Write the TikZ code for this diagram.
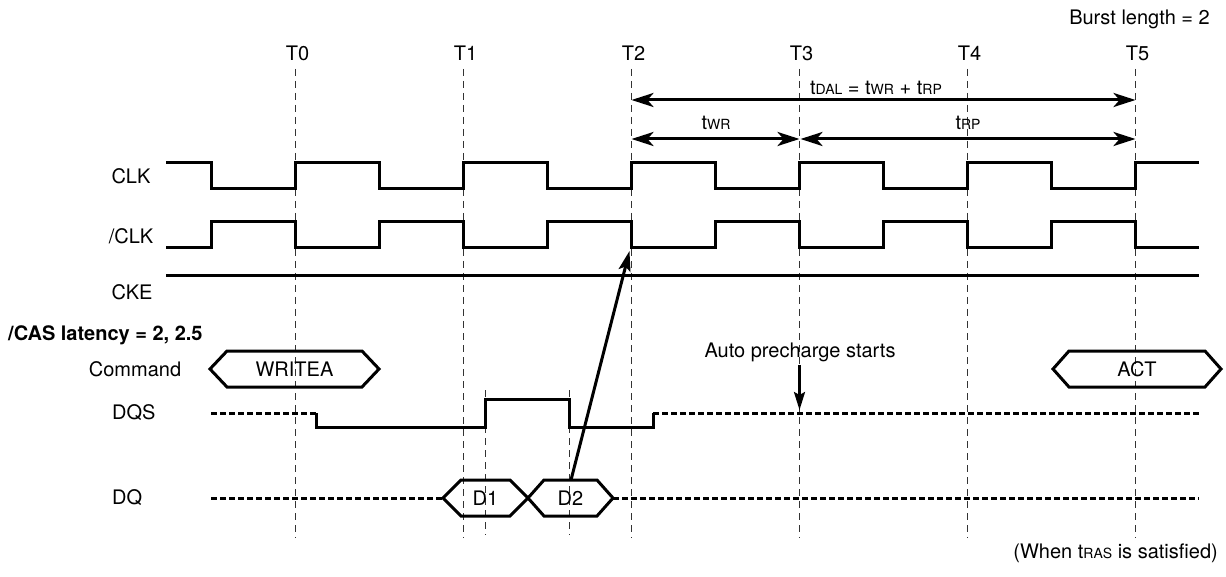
\documentclass[tikz,border=0pt]{standalone}
\usepackage{fontspec}
\setmainfont{TeX Gyre Heros}
\usetikzlibrary{arrows.meta,calc}
\newcommand\smc[1]{{\fontsize{14}{14}\selectfont #1}}
\newcommand\hexbox[3]{\draw[sig,shift={(#1.center)}] (-#2,0) -- ({-#2+#3},-18) -- ({#2-#3},-18) -- (#2,0) -- ({#2-#3},18) -- ({-#2+#3},18) -- cycle;}
\begin{document}
\begin{tikzpicture}[x=1pt,y=-1pt,
  sig/.style={line width=3pt},
  sigdash/.style={line width=3pt,dash pattern=on 6pt off 3pt},
  gridline/.style={line width=1.2pt,dash pattern=on 7pt off 5pt,black!80},
  lbl/.style={inner sep=0pt,font=\fontsize{20}{24}\selectfont},
  dimarrow/.style={line width=3pt,{Stealth[length=22pt,width=14pt,inset=6pt]}-{Stealth[length=22pt,width=14pt,inset=6pt]}},
  onearrow/.style={line width=3pt,-{Stealth[length=20pt,width=12pt,inset=4pt]}}]
\fill[white] (0,0) rectangle (1226,577);
\useasboundingbox (0,0) rectangle (1226,577);

% clock grid lines and labels
\foreach \k in {0,...,5} {
  \pgfmathsetmacro\xx{295.5+168*\k}
  \coordinate (T\k) at (\xx,0);
  \draw[gridline] (\xx,69) -- (\xx,538);
  \node[lbl] (lT\k) at (\xx+2,53) {T\k};
}
\draw[gridline] (485.5,390) -- (485.5,535);
\draw[gridline] (569.5,390) -- (569.5,535);

% top texts
\node[lbl,anchor=base east] (burst) at (1210,25) {Burst length = 2};
\node[lbl] (dallbl) at (876,88) {t\smc{DAL} = t\smc{WR} + t\smc{RP}};
\node[lbl] (wrlbl) at (716,123) {t\smc{WR}};
\node[lbl] (rplbl) at (968,123) {t\smc{RP}};

% timing arrows
\coordinate (dalL) at (631.5,100);
\coordinate (dalR) at (1135.5,100);
\coordinate (wrL) at (631.5,139);
\coordinate (wrR) at (799.5,139);
\coordinate (rpL) at (800.5,139);
\coordinate (rpR) at (1135.5,139);
\draw[dimarrow] (dalL) -- (dalR);
\draw[dimarrow] (wrL) -- (wrR);
\draw[dimarrow] (rpL) -- (rpR);

% signal labels
\node[lbl] (clklbl) at (131,176) {CLK};
\node[lbl] (nclklbl) at (131,236) {/CLK};
\node[lbl] (ckelbl) at (132,292) {CKE};
\node[lbl,anchor=west,font=\fontsize{20}{24}\selectfont\bfseries] (caslbl) at (8,335) {/CAS latency = 2, 2.5};
\node[lbl] (cmdlbl) at (135,369) {Command};
\node[lbl,anchor=west] (dqslbl) at (112,413) {DQS};
\node[lbl,anchor=west] (dqlbl) at (112,498) {DQ};

% CLK
\draw[sig] (166,163) \foreach \k in {0,...,5} { -- ({211.5+168*\k},163) -- ({211.5+168*\k},189) -- ({295.5+168*\k},189) -- ({295.5+168*\k},163) } -- (1199,163);
% /CLK
\draw[sig] (166,248) \foreach \k in {0,...,5} { -- ({211.5+168*\k},248) -- ({211.5+168*\k},222) -- ({295.5+168*\k},222) -- ({295.5+168*\k},248) } -- (1199,248);
% CKE
\draw[sig] (166,276) -- (1199,276);

% Command
\node[lbl] (writea) at (294.5,369) {WRITEA};
\hexbox{writea}{84.5}{17}
\node[lbl] (act) at (1137,369) {ACT};
\hexbox{act}{84}{16}

% DQS
\draw[sigdash] (211,413) -- (316,413);
\draw[sig] (316,413) -- (316,427) -- (485.5,427) -- (485.5,399) -- (569,399) -- (569,427) -- (653,427) -- (653,413);
\draw[sigdash] (653,413) -- (1199,413);

% DQ
\node[lbl] (d1) at (485.5,498) {D1};
\hexbox{d1}{42.5}{18}
\node[lbl] (d2) at (570.5,498) {D2};
\hexbox{d2}{42.5}{16}
\draw[sigdash] (211,498) -- (443,498);
\draw[sigdash] (613,498) -- (1199,498);

% arrow from D2 to /CLK edge
\coordinate (d2top) at (571,480);
\coordinate (clkT2) at (629.5,251);
\draw[onearrow] (d2top) -- (clkT2);

% auto precharge
\node[lbl] (apc) at (800,352) {Auto precharge starts};
\coordinate (apcS) at (799.5,365);
\coordinate (apcE) at (799.5,410);
\draw[line width=2.6pt,-{Stealth[length=18pt,width=11pt,inset=3pt]}] (apcS) -- (apcE);

\node[lbl,anchor=east] (tras) at (1218,553) {(When t\smc{RAS} is satisfied)};
\end{tikzpicture}
\end{document}
